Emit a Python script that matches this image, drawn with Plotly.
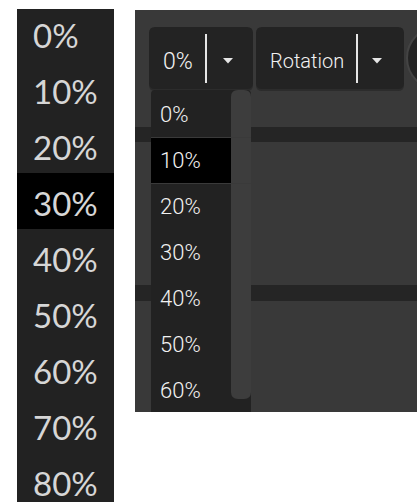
import plotly.graph_objects as go

# ---- data ----
left_labels = ["0%", "10%", "20%", "30%", "40%", "50%", "60%", "70%", "80%"]
left_selected = "30%"
dropdown_labels = ["0%", "10%", "20%", "30%", "40%", "50%", "60%"]
dropdown_selected = "10%"
button_labels = ["0%", "Rotation"]

W, H = 417, 502

# ---- layout constants (px) ----
L_X0, L_X1, L_TOP = 17, 114, 9
L_ROW0, L_PITCH = 34, 56
R_X0, R_X1, R_TOP, R_BOT = 135, 417, 10, 412
DD_X0, DD_X1, DD_TOP = 151, 251, 90
DD_ROW0, DD_PITCH = 114.5, 46
BANDS = [(127, 142), (285, 301)]
BTNS = [(149, 253), (256, 404)]
BTN_Y0, BTN_Y1 = 27, 89
BTN_TEXT_CX = [177.5, 307]
BTN_FONT = [23, 20]
BTN_LINE_X = [206, 357]
BTN_TRI_X = [228, 377]

shapes = []
annotations = []


def rrect(x0, y0, x1, y1, r, fill, line=None, lw=0):
    p = (f"M {x0+r},{y0} L {x1-r},{y0} Q {x1},{y0} {x1},{y0+r} "
         f"L {x1},{y1-r} Q {x1},{y1} {x1-r},{y1} L {x0+r},{y1} "
         f"Q {x0},{y1} {x0},{y1-r} L {x0},{y0+r} Q {x0},{y0} {x0+r},{y0} Z")
    return dict(type="path", path=p, xref="x", yref="y", fillcolor=fill,
                line=dict(color=line or fill, width=lw), layer="below")


def rect(x0, y0, x1, y1, fill):
    return dict(type="rect", x0=x0, y0=y0, x1=x1, y1=y1, xref="x", yref="y",
                fillcolor=fill, line=dict(width=0), layer="below")


# left list panel
shapes.append(rect(L_X0, L_TOP, L_X1, H, "#222222"))
for i, lab in enumerate(left_labels):
    cy = L_ROW0 + L_PITCH * i
    if lab == left_selected:
        shapes.append(rect(L_X0, cy - 29, L_X1, cy + 27, "#000000"))
    annotations.append(dict(x=31, y=cy + 1, xref="x", yref="y", text=lab,
                            showarrow=False, xanchor="left", yanchor="middle",
                            font=dict(family="Lato", size=33, color="#d6d6d6")))

# right panel
shapes.append(rect(R_X0, R_TOP, R_X1, R_BOT, "#393939"))
for y0, y1 in BANDS:
    shapes.append(rect(R_X0, y0, R_X1, y1, "#252525"))

# buttons
for k, lab in enumerate(button_labels):
    bx0, bx1 = BTNS[k]
    shapes.append(rrect(bx0, BTN_Y0 + 2, bx1, BTN_Y1 + 2, 6, "#2c2c2c"))
    shapes.append(rrect(bx0, BTN_Y0, bx1, BTN_Y1, 6, "#232323"))
    shapes.append(dict(type="line", x0=BTN_LINE_X[k], x1=BTN_LINE_X[k],
                       y0=34, y1=83, xref="x", yref="y",
                       line=dict(color="#e6e6e6", width=2)))
    tx = BTN_TRI_X[k]
    shapes.append(dict(type="path", xref="x", yref="y",
                       path=f"M {tx-5},{58} L {tx+5},{58} L {tx},{63.5} Z",
                       fillcolor="#e6e6e6", line=dict(width=0)))
    annotations.append(dict(x=BTN_TEXT_CX[k], y=61, xref="x", yref="y", text=lab,
                            showarrow=False, xanchor="center", yanchor="middle",
                            font=dict(family="Roboto", size=BTN_FONT[k],
                                      color="#f2f2f2", weight=300)))

# partial circle button at right
shapes.append(dict(type="circle", x0=407, x1=469, y0=27, y1=89, xref="x", yref="y",
                   fillcolor="#242424", line=dict(color="#444444", width=2),
                   layer="below"))

# dropdown list
shapes.append(rrect(DD_X0, DD_TOP, DD_X1, R_BOT + 6, 4, "#222222"))
shapes.append(rect(R_X0, R_BOT, W, H, "#ffffff"))
for i, lab in enumerate(dropdown_labels):
    cy = DD_ROW0 + DD_PITCH * i
    if lab == dropdown_selected:
        shapes.append(rect(DD_X0, cy - 23, DD_X1, cy + 23, "#000000"))
        shapes.append(dict(type="line", x0=DD_X0, x1=DD_X1, y0=cy - 23, y1=cy - 23,
                           xref="x", yref="y", line=dict(color="#3a3a3a", width=1)))
        shapes.append(dict(type="line", x0=DD_X0, x1=DD_X1, y0=cy + 23, y1=cy + 23,
                           xref="x", yref="y", line=dict(color="#3a3a3a", width=1)))
    annotations.append(dict(x=158, y=cy, xref="x", yref="y", text=lab,
                            showarrow=False, xanchor="left", yanchor="middle",
                            font=dict(family="Roboto", size=22, color="#f2f2f2",
                                      weight=300)))

# scrollbar
shapes.append(rrect(231, DD_TOP, 251, 399, 7, "#3d3d3d"))

fig = go.Figure()
fig.update_layout(
    width=W, height=H,
    margin=dict(l=0, r=0, t=0, b=0),
    paper_bgcolor="#ffffff", plot_bgcolor="#ffffff",
    xaxis=dict(range=[0, W], visible=False, fixedrange=True),
    yaxis=dict(range=[H, 0], visible=False, fixedrange=True),
    shapes=shapes, annotations=annotations, showlegend=False,
)
fig.write_html("out.html", config={"displayModeBar": False},
               post_script="document.body.style.margin='0';document.body.style.overflow='hidden';")
